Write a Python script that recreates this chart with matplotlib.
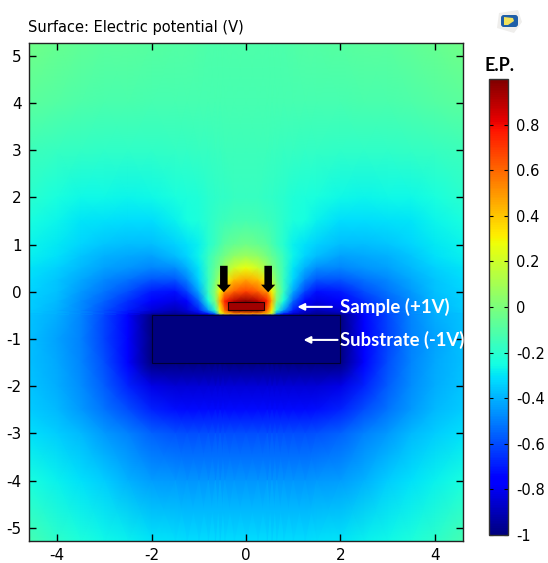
# Surface plot of the electric potential
import numpy as np
import matplotlib
matplotlib.use("Agg")
import matplotlib.pyplot as plt
from matplotlib.patches import Rectangle, FancyArrow, Polygon, FancyBboxPatch

plt.rcParams['axes.unicode_minus'] = False
plt.rcParams['font.family'] = 'DejaVu Sans'

# sampled potential, right half (the picture is mirrored about x=0)
x_half = [0, .25, .45, .55, .65, .8, 1, 1.25, 1.5, 2, 2.5, 3, 3.5, 4, 4.62]
y_rows = [5.28, 4, 3, 2, 1.5, 1, .75, .5, .25, 0, -.2, -.4, -.47, -.5, -1, -1.5, -2, -2.5, -3, -4, -5.28]
V_half = [
    [-.11, -.11, -.11, -.11, -.11, -.11, -.105, -.10, -.10, -.09, -.085, -.08, -.07, -.05, -.03],
    [-.13, -.13, -.13, -.13, -.13, -.13, -.13, -.13, -.13, -.13, -.125, -.12, -.11, -.10, -.08],
    [-.15, -.15, -.155, -.16, -.16, -.165, -.17, -.172, -.175, -.18, -.18, -.18, -.175, -.17, -.15],
    [-.17, -.17, -.18, -.185, -.19, -.20, -.22, -.23, -.24, -.26, -.27, -.26, -.26, -.24, -.20],
    [-.13, -.135, -.15, -.16, -.175, -.20, -.23, -.25, -.28, -.32, -.32, -.31, -.30, -.27, -.24],
    [-.03, -.05, -.08, -.12, -.16, -.21, -.28, -.31, -.34, -.38, -.38, -.36, -.33, -.29, -.27],
    [.08, .05, -.02, -.06, -.10, -.17, -.27, -.33, -.38, -.43, -.42, -.40, -.36, -.31, -.28],
    [.27, .20, .08, .0, -.06, -.16, -.30, -.40, -.47, -.49, -.46, -.43, -.39, -.34, -.30],
    [.47, .42, .27, .12, -.02, -.17, -.33, -.50, -.58, -.58, -.53, -.48, -.42, -.36, -.32],
    [.68, .62, .50, .30, .05, -.17, -.42, -.62, -.72, -.70, -.60, -.52, -.45, -.37, -.33],
    [.97, .90, .75, .45, .0, -.25, -.55, -.75, -.82, -.78, -.66, -.56, -.47, -.39, -.34],
    [.97, .97, .60, .30, -.20, -.45, -.70, -.85, -.90, -.85, -.70, -.60, -.48, -.40, -.35],
    [.50, .50, .40, .20, -.50, -.70, -.85, -.92, -.95, -.92, -.73, -.60, -.48, -.40, -.36],
    [-1, -1, -1, -1, -1, -1, -1, -1, -1, -1, -.75, -.61, -.49, -.41, -.36],
    [-1, -1, -1, -1, -1, -1, -1, -1, -1, -1, -.78, -.62, -.50, -.43, -.37],
    [-1, -1, -1, -1, -1, -1, -1, -1, -1, -1, -.75, -.60, -.49, -.42, -.37],
    [-.85, -.85, -.85, -.85, -.85, -.85, -.85, -.85, -.85, -.82, -.68, -.57, -.47, -.41, -.36],
    [-.73, -.73, -.73, -.73, -.73, -.73, -.73, -.73, -.72, -.68, -.60, -.52, -.45, -.39, -.35],
    [-.60, -.60, -.60, -.60, -.60, -.60, -.60, -.60, -.59, -.56, -.50, -.45, -.39, -.35, -.31],
    [-.46, -.46, -.46, -.46, -.46, -.46, -.46, -.455, -.45, -.44, -.40, -.35, -.31, -.28, -.24],
    [-.32, -.32, -.32, -.32, -.32, -.32, -.32, -.315, -.31, -.30, -.28, -.26, -.23, -.19, -.13],
]

x_ticks = [-4, -2, 0, 2, 4]
y_ticks = [-5, -4, -3, -2, -1, 0, 1, 2, 3, 4, 5]
cbar_ticks = [-1, -.8, -.6, -.4, -.2, 0, .2, .4, .6, .8]
cbar_labels = ['-1', '-0.8', '-0.6', '-0.4', '-0.2', '0', '0.2', '0.4', '0.6', '0.8']

W, H = 548, 563
fig = plt.figure(figsize=(W/100, H/100), dpi=100)

def px_axes(x0, y0, x1, y1):
    return fig.add_axes([x0/W, 1-y1/H, (x1-x0)/W, (y1-y0)/H])

ax = px_axes(28.5, 43, 463.5, 541)

x_half = np.array(x_half)
V_half = np.array(V_half)
xs = np.concatenate([-x_half[:0:-1], x_half])
V = np.hstack([V_half[:, :0:-1], V_half])
mesh = ax.pcolormesh(xs, np.array(y_rows), V, shading='gouraud', cmap='jet', vmin=-1, vmax=1)

ax.set_xlim(-4.61, 4.61)
ax.set_ylim(-5.28, 5.27)
ax.set_xticks(x_ticks)
ax.set_yticks(y_ticks)
ax.tick_params(top=True, right=True, direction='in', length=5, width=1, labelsize=11, pad=5)
for s in ax.spines.values():
    s.set_linewidth(1)
    s.set_edgecolor('#222222')

# sample and substrate outlines
ax.add_patch(Rectangle((-2, -1.5), 4, 1, fc='none', ec='#000033', lw=0.8))
ax.add_patch(Rectangle((-.39, -.39), .78, .18, fc='#a00000', ec='#220000', lw=0.8))

# black arrows on the sample
for ax_x in (-.47, .47):
    ax.add_patch(FancyArrow(ax_x, .55, 0, -.56, width=.16, head_width=.3, head_length=.16,
                            length_includes_head=True, fc='k', ec='none'))

# white labels
ax.annotate('', xy=(1.03, -.32), xytext=(1.88, -.32),
            arrowprops=dict(arrowstyle='-|>', color='white', lw=1.5, mutation_scale=10))
ax.annotate('', xy=(1.16, -1.02), xytext=(2.0, -1.02),
            arrowprops=dict(arrowstyle='-|>', color='white', lw=1.5, mutation_scale=10))
ax.text(2.0, -.32, 'Sample (+1V)', color='white', fontsize=13.4, fontweight='bold',
        family='Lato', va='center', ha='left')
ax.text(2.0, -1.02, 'Substrate (-1V)', color='white', fontsize=13.3, fontweight='bold',
        family='Lato', va='center', ha='left', clip_on=False)

fig.text(28.5/W, 1-32/H, 'Surface: Electric potential (V)', fontsize=10.5, ha='left', va='baseline')

# colorbar
cax = px_axes(489, 79, 508, 535)
cb = fig.colorbar(mesh, cax=cax)
cb.set_ticks(cbar_ticks)
cb.set_ticklabels(cbar_labels)
cax.tick_params(left=True, right=True, direction='in', length=3, width=.8, labelsize=10.5, pad=6)
cb.outline.set_edgecolor('#333333')
cb.outline.set_linewidth(1)
fig.text(499/W, 1-71/H, 'E.P.', fontsize=13, fontweight='bold', family='Lato', ha='center', va='baseline')

# small logo top right
fig.add_artist(Polygon([(499/W, 1-13/H), (518/W, 1-10/H), (522/W, 1-22/H), (514/W, 1-33/H), (497/W, 1-28/H)],
                       closed=True, transform=fig.transFigure, fc='#efeeec', ec='none'))
fig.add_artist(FancyBboxPatch((501/W, 1-27/H), 17/W, 12/H, boxstyle='round,pad=0,rounding_size=0.005',
                              transform=fig.transFigure, fc='#1f5fa8', ec='none'))
fig.add_artist(Polygon([(504/W, 1-17/H), (513/W, 1-18/H), (514/W, 1-21/H), (508/W, 1-25/H), (504/W, 1-25/H)],
                       closed=True, transform=fig.transFigure, fc='#f2e25a', ec='none'))

plt.savefig('out.png', dpi=100)
